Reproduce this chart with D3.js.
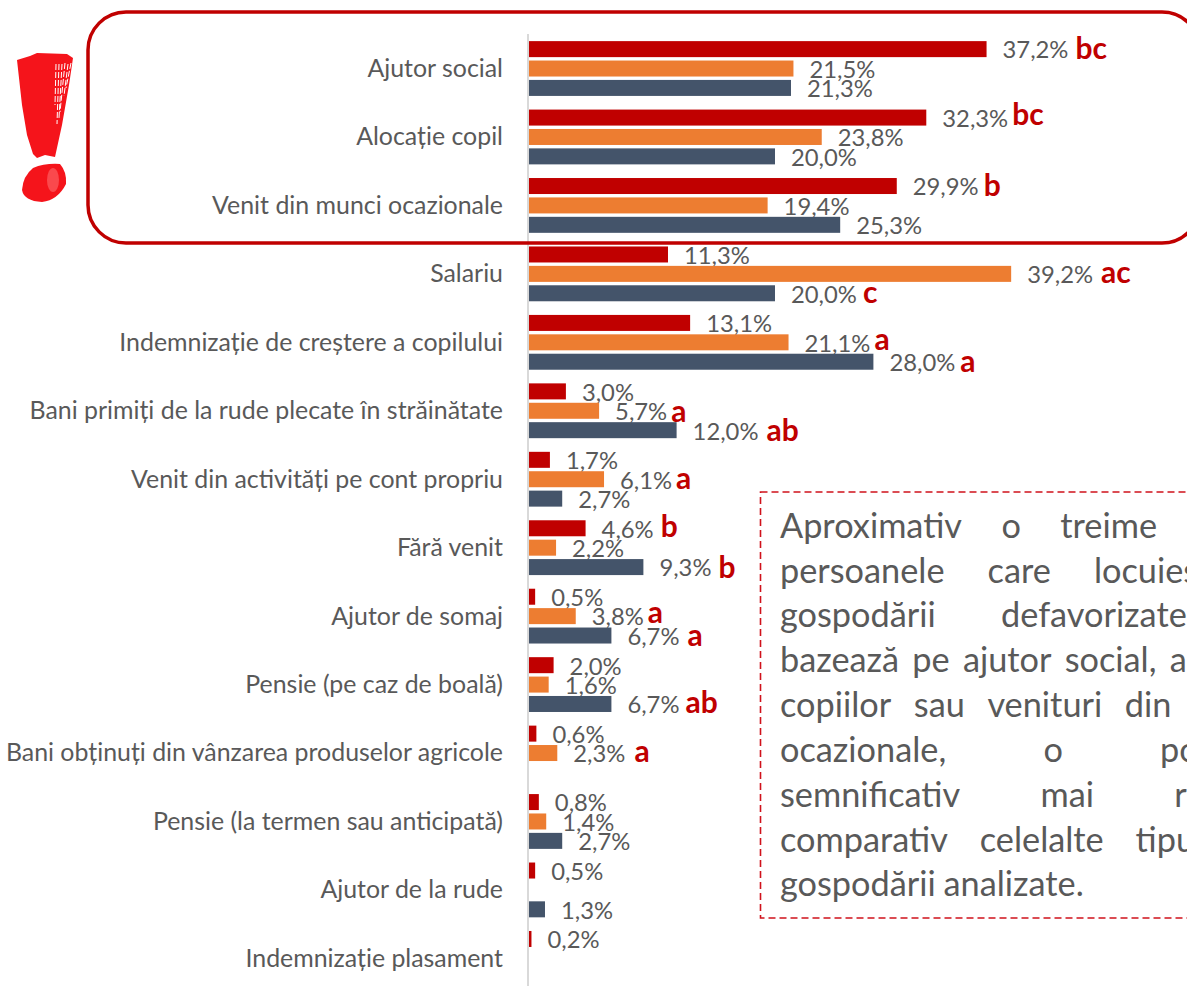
<!DOCTYPE html>
<html><head><meta charset="utf-8">
<script src="https://cdn.jsdelivr.net/npm/d3@7/dist/d3.min.js"></script>
<style>
html,body{margin:0;padding:0;background:#fff;overflow:hidden}
svg{display:block}
text{font-family:Lato,"Open Sans",sans-serif}
</style></head><body>
<svg id="c" width="1187" height="986"></svg>
<script>
const categories=["Ajutor social","Alocație copil","Venit din munci ocazionale","Salariu","Indemnizație de creștere a copilului","Bani primiți de la rude plecate în străinătate","Venit din activități pe cont propriu","Fără venit","Ajutor de somaj","Pensie (pe caz de boală)","Bani obținuți din vânzarea produselor agricole","Pensie (la termen sau anticipată)","Ajutor de la rude","Indemnizație plasament"];
const seriesNames=["a","b","c"];
const seriesA=[37.2,32.3,29.9,11.3,13.1,3.0,1.7,4.6,0.5,2.0,0.6,0.8,0.5,0.2];
const seriesB=[21.5,23.8,19.4,39.2,21.1,5.7,6.1,2.2,3.8,1.6,2.3,1.4,null,null];
const seriesC=[21.3,20.0,25.3,20.0,28.0,12.0,2.7,9.3,6.7,6.7,null,2.7,1.3,null];
const lettersA=["bc","bc","b","","","","","b","","","","","",""];
const lettersB=["","","","ac","a","a","a","","a","","a","","",""];
const lettersC=["","","","c","a","ab","","b","a","ab","","","",""];
const colors=["#c00000","#ed7d31","#44546a"];
const noteLines=["Aproximativ o treime dintre","persoanele care locuiesc în","gospodării defavorizate se","bazează pe ajutor social, alocația","copiilor sau venituri din munci","ocazionale, o pondere","semnificativ mai ridicată","comparativ celelalte tipuri de","gospodării analizate."];

const svg=d3.select("#c");
const x=d3.scaleLinear().domain([0,40]).range([529,1021]);
const y=d3.scaleBand().domain(categories).range([34.3,992.6]);
const inner=d3.scaleBand().domain(seriesNames).range([y.bandwidth()/2-29.1,y.bandwidth()/2+29.1]).paddingInner(0.175).paddingOuter(0.0875);
const fmt=d3.formatLocale({decimal:",",thousands:".",grouping:[3],currency:["",""]}).format(".1f");
const grey="#595959";

// hand placement of the significance letters: [gap after the value label, vertical shift]
const letterPlace={"0-0":[7,-1],"0-1":[4,-3],"0-2":[5,-1],"0-7":[7,-2],
 "1-3":[8,-1],"1-4":[4,-3],"1-5":[4,1],"1-6":[4,-1],"1-8":[4,-4],"1-10":[9,-2],
 "2-3":[6,-1],"2-4":[5,0],"2-5":[8,0],"2-7":[7,0],"2-8":[8,0],"2-9":[6,-1]};

// axis
const ax=d3.axisLeft(y).tickSize(0).tickPadding(25);
const gAx=svg.append("g").attr("transform","translate(528,0)").call(ax);
gAx.select(".domain").remove();
gAx.selectAll("text").attr("fill",grey).style("font-size","24.9px").style("font-family","Lato");
gAx.selectAll(".tick text").attr("dy","0.34em");
svg.append("line").attr("x1",528).attr("x2",528).attr("y1",34).attr("y2",986).attr("stroke","#d9d9d9").attr("stroke-width",2);

// bars
const allSeries=[seriesA,seriesB,seriesC], allLetters=[lettersA,lettersB,lettersC];
allSeries.forEach((vals,s)=>{
  const g=svg.append("g");
  const rows=vals.map((v,i)=>({v,i,cat:categories[i],letter:allLetters[s][i]})).filter(d=>d.v!==null);
  g.selectAll("rect").data(rows).join("rect")
    .attr("x",x(0)).attr("width",d=>x(d.v)-x(0))
    .attr("y",d=>y(d.cat)+inner(seriesNames[s])).attr("height",inner.bandwidth())
    .attr("fill",colors[s]);
  const t=g.selectAll("text").data(rows).join("text")
    .attr("x",d=>x(d.v)+16)
    .attr("y",d=>y(d.cat)+inner(seriesNames[s])+inner.bandwidth()/2+1)
    .attr("dy","0.35em").attr("fill",grey).style("font-size","23.8px")
    .text(d=>fmt(d.v)+"%");
  t.each(function(d){
    if(!d.letter) return;
    const w=this.getComputedTextLength();
    const p=letterPlace[s+"-"+d.i]||[7,0];
    g.append("text")
      .attr("x",x(d.v)+16+w+p[0])
      .attr("y",y(d.cat)+inner(seriesNames[s])+inner.bandwidth()/2+p[1])
      .attr("dy","0.35em").attr("fill","#c00000").style("font-size","30px").style("font-weight","700")
      .text(d.letter);
  });
});

// rounded frame
svg.append("rect").attr("x",88).attr("y",12).attr("width",1112).attr("height",231).attr("rx",38).attr("ry",38)
  .attr("fill","none").attr("stroke","#c00000").attr("stroke-width",3.5);

// exclamation mark
const ex=svg.append("g");
ex.append("path").attr("d","M17 60 L30 56 L37 53 L67 54 L73 58 L69 85 L62 125 L55 157 L45 155 L37 158 L33 154 L27 135 L22 105 Z").attr("fill","#f5141b");
ex.append("path").attr("d","M56 64 L55 105 M59 64 L57 124 M62 64 L59 118 M65 63 L60 112 M68 64 L64 96 M71 63 L66 88").attr("stroke","#fff").attr("stroke-width",1).attr("stroke-dasharray","6 2").attr("fill","none");
ex.append("path").attr("d","M33 168 Q45 163 60 164 Q67 172 66 184 Q58 200 42 202 Q24 201 22 190 Q23 176 33 168 Z").attr("fill","#f5141b");
ex.append("ellipse").attr("cx",53).attr("cy",180).attr("rx",6).attr("ry",12).attr("fill","#ff7d80").attr("opacity",.5);

// note box
svg.append("rect").attr("x",760.5).attr("y",492).attr("width",460).attr("height",426)
  .attr("fill","none").attr("stroke","#d0121b").attr("stroke-width",1.6).attr("stroke-dasharray","7 4");
const left=780,right=1285,noteSize=34.3;
noteLines.forEach((line,li)=>{
  const words=line.split(" ");
  const by=526+li*44.85;
  const nodes=words.map(w=>svg.append("text").attr("y",by).attr("dy","0.34em").attr("fill",grey).style("font-size",noteSize+"px").text(w));
  const widths=nodes.map(n=>n.node().getComputedTextLength());
  const last=li===noteLines.length-1;
  const sum=d3.sum(widths);
  const gap=last?noteSize*0.226:(right-left-sum)/(words.length-1);
  let cx=left;
  nodes.forEach((n,i)=>{n.attr("x",cx);cx+=widths[i]+gap;});
});
</script></body></html>
